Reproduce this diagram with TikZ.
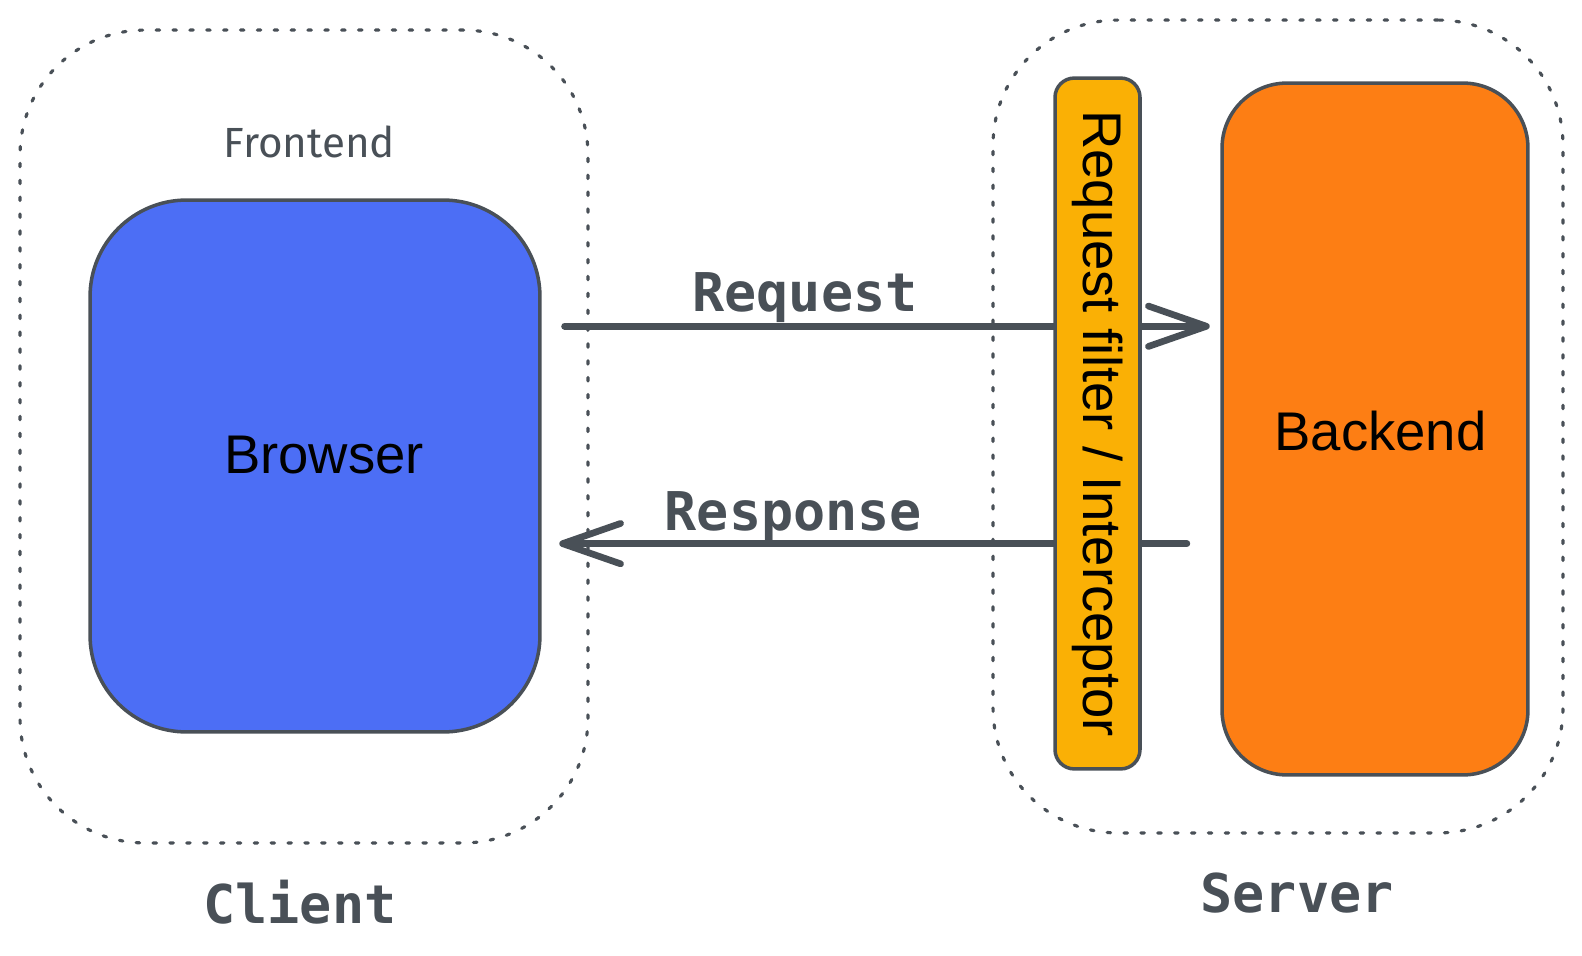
\documentclass[tikz,border=0pt]{standalone}
\usepackage{fontspec}
\newfontfamily\boxfont{Liberation Sans}
\newfontfamily\codefont{DejaVu Sans Mono}
\newfontfamily\handfont{Fira Sans}
\usepackage{tikz}
\usetikzlibrary{calc,arrows.meta,positioning}
\definecolor{mygray}{HTML}{495057}
\definecolor{myblue}{HTML}{4C6EF5}
\definecolor{myorange}{HTML}{FD7E14}
\definecolor{myyellow}{HTML}{FAB005}
\tikzstyle{zone}=[draw=mygray,line width=1.8pt,line cap=round,dash pattern=on 2pt off 7.6pt,rounded corners=71pt]
\tikzstyle{block}=[draw=mygray,line width=2pt]
\tikzstyle{boxtext}=[text=black,inner sep=0pt,font=\boxfont\fontsize{31}{36}\selectfont]
\tikzstyle{tag}=[text=mygray,inner sep=0pt,font=\codefont\bfseries\fontsize{30.4}{36}\selectfont]
\tikzstyle{flow}=[draw=mygray,line width=3.8pt,line cap=round,-{Straight Barb[length=33pt 0,width=23pt 0,round]}]

\begin{document}
\begin{tikzpicture}[x=0.02cm,y=-0.02cm]
\useasboundingbox (0,0) rectangle (1582,956);
% groups
\draw (304,436.5) node [zone,minimum width=11.36cm,minimum height=16.26cm] (client) {};
\draw (1278,426.5) node [zone,minimum width=11.4cm,minimum height=16.26cm] (server) {};
\draw (300,923) node [tag,anchor=base] (clientlbl) {Client};
\draw (1297,912) node [tag,anchor=base] (serverlbl) {Server};
\draw (309.5,158) node [anchor=base,inner sep=0pt,text=mygray,font=\handfont\fontsize{24}{28}\selectfont] (frontend) {Frontend};
% boxes
\draw (315,466) node [block,fill=myblue,rounded corners=55pt,minimum width=9cm,minimum height=10.64cm] (browser) {};
\draw (324,473) node [boxtext,anchor=base] (browsertxt) {Browser};
\draw (1375,429) node [block,fill=myorange,rounded corners=37pt,minimum width=6.12cm,minimum height=13.84cm] (backend) {};
\draw (1380.5,450) node [boxtext,anchor=base] (backendtxt) {Backend};
% calls
\coordinate (req) at ($(browser.north east)!0.239!(browser.south east)$);
\coordinate (res) at ($(browser.north east)!0.645!(browser.south east)$);
\draw[flow,shorten <=13pt,shorten >=6pt] (req) -- (req -| backend.west) node[tag,pos=0.388,anchor=base,yshift=8.5pt] (reqlbl) {Request};
\draw[flow,shorten <=19pt,shorten >=10pt] (res -| backend.west) -- (res) node[tag,pos=0.629,anchor=base,yshift=7.4pt] (reslbl) {Response};
% filter on top of the calls
\draw (1097.5,423.5) node [block,fill=myyellow,rounded corners=11pt,rotate=-90,inner sep=0pt,minimum width=13.82cm,minimum height=1.7cm,font=\boxfont\fontsize{31}{36}\selectfont] (filter) {Request filter / Interceptor};
\end{tikzpicture}
\end{document}
